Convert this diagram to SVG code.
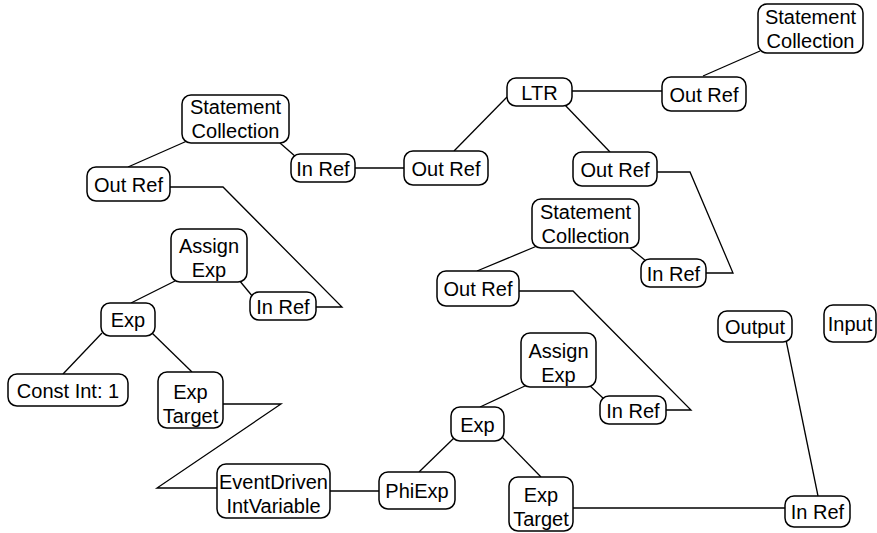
<svg xmlns="http://www.w3.org/2000/svg" width="877" height="533" viewBox="0 0 877 533">
  <style>
    .node rect { fill: #ffffff; stroke: #000000; stroke-width: 1.5; }
    .node text { font-family: "Liberation Sans", Arial, sans-serif; font-size: 20px; fill: #000000; text-anchor: middle; }
    #connectors polyline, #connectors line { fill: none; stroke: #000000; stroke-width: 1.3; }
  </style>
  <rect width="877" height="533" fill="#ffffff"/>

  <g id="connectors">
    <line x1="760" y1="51" x2="703" y2="76"/>
    <line x1="572" y1="91" x2="662" y2="91"/>
    <line x1="507" y1="97" x2="454" y2="151"/>
    <line x1="564" y1="104" x2="610" y2="152"/>
    <line x1="354" y1="168" x2="404" y2="168"/>
    <polyline points="657,172 690,172 733,273 706,273"/>
    <line x1="630" y1="248" x2="646" y2="261"/>
    <line x1="537" y1="246" x2="477" y2="271"/>
    <polyline points="519,291 573,291 691,410 666,410"/>
    <line x1="588" y1="384" x2="604" y2="399"/>
    <line x1="527" y1="385" x2="480" y2="407"/>
    <line x1="454" y1="438" x2="419" y2="472"/>
    <line x1="502" y1="437" x2="541" y2="477"/>
    <line x1="573" y1="508" x2="785" y2="508"/>
    <line x1="786" y1="340" x2="818" y2="496"/>
    <line x1="330" y1="491" x2="380" y2="491"/>
    <polyline points="217,488 157,488 281,404 223,404"/>
    <line x1="102" y1="333" x2="63" y2="374"/>
    <line x1="152" y1="333" x2="192" y2="372"/>
    <line x1="187" y1="141" x2="128" y2="167"/>
    <line x1="280" y1="143" x2="296" y2="157"/>
    <polyline points="170,187 223,187 342,307 316,307"/>
    <line x1="239" y1="280" x2="253" y2="297"/>
    <line x1="175" y1="281" x2="131" y2="303"/>
  </g>

  <!-- top right branch -->
  <g id="stmt-collection-top" class="node">
    <rect x="758" y="4" width="105" height="49" rx="9"/>
    <text x="810.5" y="24">Statement</text>
    <text x="810.5" y="48">Collection</text>
  </g>
  <g id="out-ref-top" class="node">
    <rect x="662" y="77" width="84" height="34" rx="9"/>
    <text x="704" y="101.5">Out Ref</text>
  </g>
  <g id="ltr" class="node">
    <rect x="507" y="78" width="65" height="28" rx="9"/>
    <text x="539.5" y="99.5">LTR</text>
  </g>
  <g id="out-ref-ltr-left" class="node">
    <rect x="404" y="151" width="84" height="34" rx="9"/>
    <text x="446" y="175.5">Out Ref</text>
  </g>
  <g id="out-ref-ltr-right" class="node">
    <rect x="573" y="152" width="84" height="34" rx="9"/>
    <text x="615" y="176.5">Out Ref</text>
  </g>

  <!-- middle statement collection -->
  <g id="stmt-collection-mid" class="node">
    <rect x="532" y="199" width="107" height="49" rx="9"/>
    <text x="585.5" y="219">Statement</text>
    <text x="585.5" y="243">Collection</text>
  </g>
  <g id="in-ref-mid" class="node">
    <rect x="641" y="259" width="65" height="28" rx="9"/>
    <text x="673.5" y="280.5">In Ref</text>
  </g>
  <g id="out-ref-mid" class="node">
    <rect x="437" y="271" width="82" height="35" rx="9"/>
    <text x="478" y="296">Out Ref</text>
  </g>

  <g id="output" class="node">
    <rect x="718" y="311" width="74" height="31" rx="9"/>
    <text x="755" y="334">Output</text>
  </g>
  <g id="input" class="node">
    <rect x="824" y="305" width="52" height="37" rx="9"/>
    <text x="850" y="331">Input</text>
  </g>

  <!-- right assignment -->
  <g id="assign-exp-right" class="node">
    <rect x="521" y="333" width="75" height="54" rx="9"/>
    <text x="558.5" y="358">Assign</text>
    <text x="558.5" y="382">Exp</text>
  </g>
  <g id="in-ref-right" class="node">
    <rect x="600" y="396" width="66" height="28" rx="9"/>
    <text x="633" y="417.5">In Ref</text>
  </g>
  <g id="exp-right" class="node">
    <rect x="451" y="407" width="53" height="34" rx="9"/>
    <text x="477.5" y="431.5">Exp</text>
  </g>
  <g id="exp-target-right" class="node">
    <rect x="509" y="477" width="64" height="54" rx="9"/>
    <text x="541" y="502">Exp</text>
    <text x="541" y="526">Target</text>
  </g>
  <g id="in-ref-bottom" class="node">
    <rect x="785" y="496" width="65" height="31" rx="9"/>
    <text x="817.5" y="519">In Ref</text>
  </g>
  <g id="phi-exp" class="node">
    <rect x="379" y="472" width="76" height="37" rx="9"/>
    <text x="417" y="498">PhiExp</text>
  </g>
  <g id="event-driven" class="node">
    <rect x="217" y="464" width="113" height="54" rx="9"/>
    <text x="273.5" y="489">EventDriven</text>
    <text x="273.5" y="513">IntVariable</text>
  </g>

  <!-- left assignment -->
  <g id="exp-target-left" class="node">
    <rect x="158" y="372" width="65" height="56" rx="9"/>
    <text x="190.5" y="399">Exp</text>
    <text x="190.5" y="423">Target</text>
  </g>
  <g id="const-int" class="node">
    <rect x="8" y="374" width="120" height="32" rx="9"/>
    <text x="68" y="397.5">Const Int: 1</text>
  </g>
  <g id="exp-left" class="node">
    <rect x="101" y="303" width="54" height="33" rx="9"/>
    <text x="128" y="327">Exp</text>
  </g>
  <g id="stmt-collection-left" class="node">
    <rect x="182" y="95" width="107" height="48" rx="9"/>
    <text x="235.5" y="114">Statement</text>
    <text x="235.5" y="138">Collection</text>
  </g>
  <g id="in-ref-left-top" class="node">
    <rect x="291" y="154" width="64" height="28" rx="9"/>
    <text x="323" y="175.5">In Ref</text>
  </g>
  <g id="out-ref-left" class="node">
    <rect x="87" y="167" width="83" height="34" rx="9"/>
    <text x="128.5" y="191.5">Out Ref</text>
  </g>
  <g id="assign-exp-left" class="node">
    <rect x="171" y="229" width="76" height="53" rx="9"/>
    <text x="209" y="253">Assign</text>
    <text x="209" y="277">Exp</text>
  </g>
  <g id="in-ref-left-mid" class="node">
    <rect x="250" y="292" width="66" height="28" rx="9"/>
    <text x="283" y="313.5">In Ref</text>
  </g>
</svg>
